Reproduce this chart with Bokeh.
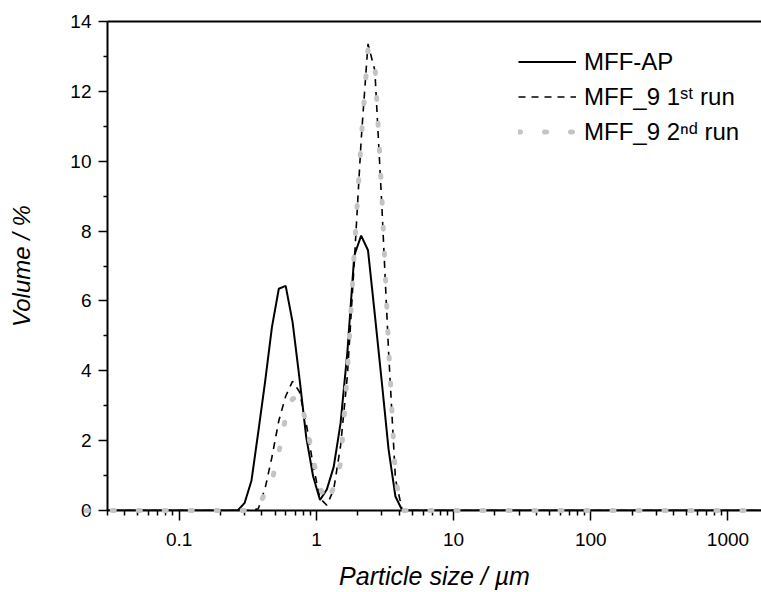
from bokeh.plotting import figure
from bokeh.models import (Range1d, FixedTicker, CustomJSTickFormatter, Legend,
                          LegendItem, LogAxis)
from bokeh.embed import file_html
from bokeh.resources import INLINE

# Particle size classes (µm, geometric bin centres)
sizes = [0.021, 0.024, 0.027, 0.030, 0.034, 0.038, 0.042, 0.048, 0.053, 0.060,
         0.067, 0.075, 0.084, 0.095, 0.106, 0.119, 0.134, 0.150, 0.168, 0.189,
         0.212, 0.238, 0.267, 0.300, 0.336, 0.377, 0.423, 0.474, 0.532, 0.597,
         0.670, 0.752, 0.843, 0.946, 1.062, 1.191, 1.337, 1.500, 1.683, 1.888,
         2.119, 2.377, 2.667, 2.993, 3.358, 3.768, 4.227, 4.743, 5.322, 5.971,
         6.699, 7.517, 8.434, 9.463, 10.618, 11.914, 13.367, 14.998, 16.828, 18.881,
         21.185, 23.770, 26.671, 29.925, 33.576, 37.673, 42.270, 47.427, 53.214, 59.707,
         66.993, 75.167, 84.339, 94.629, 106.176, 119.131, 133.667, 149.977, 168.276, 188.809,
         211.847, 237.696, 266.699, 299.240, 335.752, 376.719, 422.683, 474.258, 532.124, 597.052,
         669.902, 751.640, 843.352, 946.256, 1061.713, 1191.258, 1336.612, 1499.702, 1682.689, 1887.998]

# Volume % — MFF-AP
mff_ap = [0, 0, 0, 0, 0, 0, 0, 0, 0, 0,
          0, 0, 0, 0, 0, 0, 0, 0, 0, 0,
          0, 0, 0, 0.22, 0.85, 2.25, 3.7, 5.25, 6.35, 6.43,
          5.4, 3.8, 2.1, 0.98, 0.3, 0.6, 1.25, 2.5, 4.55, 7.3,
          7.87, 7.45, 5.6, 3.7, 1.75, 0.4, 0, 0, 0, 0,
          0, 0, 0, 0, 0, 0, 0, 0, 0, 0,
          0, 0, 0, 0, 0, 0, 0, 0, 0, 0,
          0, 0, 0, 0, 0, 0, 0, 0, 0, 0,
          0, 0, 0, 0, 0, 0, 0, 0, 0, 0,
          0, 0, 0, 0, 0, 0, 0, 0, 0, 0]

# Volume % — MFF_9 1st run
mff9_run1 = [0, 0, 0, 0, 0, 0, 0, 0, 0, 0,
             0, 0, 0, 0, 0, 0, 0, 0, 0, 0,
             0, 0, 0, 0, 0, 0.05, 0.64, 1.53, 2.57, 3.27,
             3.7, 3.4, 2.5, 1.3, 0.35, 0.15, 0.6, 1.85, 3.87, 7.1,
             10.6, 13.36, 12.6, 8.8, 4.55, 0.9, 0, 0, 0, 0,
             0, 0, 0, 0, 0, 0, 0, 0, 0, 0,
             0, 0, 0, 0, 0, 0, 0, 0, 0, 0,
             0, 0, 0, 0, 0, 0, 0, 0, 0, 0,
             0, 0, 0, 0, 0, 0, 0, 0, 0, 0,
             0, 0, 0, 0, 0, 0, 0, 0, 0, 0]

# Volume % — MFF_9 2nd run
mff9_run2 = [0, 0, 0, 0, 0, 0, 0, 0, 0, 0,
             0, 0, 0, 0, 0, 0, 0, 0, 0, 0,
             0, 0, 0, 0, 0, 0.12, 0.5, 0.86, 1.65, 2.67,
             3.2, 3.25, 2.5, 1.47, 0.65, 0.22, 0.65, 1.35, 3.95, 7.4,
             10.6, 13.2, 12.8, 9.08, 4.7, 0.9, 0, 0, 0, 0,
             0, 0, 0, 0, 0, 0, 0, 0, 0, 0,
             0, 0, 0, 0, 0, 0, 0, 0, 0, 0,
             0, 0, 0, 0, 0, 0, 0, 0, 0, 0,
             0, 0, 0, 0, 0, 0, 0, 0, 0, 0,
             0, 0, 0, 0, 0, 0, 0, 0, 0, 0]

series_labels = ["MFF-AP", "MFF_9 1ˢᵗ run", "MFF_9 2ⁿᵈ run"]

x_major = [0.1, 1, 10, 100, 1000]
x_tick_labels = ["0.1", "1", "10", "100", "1000"]
x_minor = [m * 10.0 ** e for e in range(-2, 4) for m in range(2, 10)]
y_major = [0, 2, 4, 6, 8, 10, 12, 14]
y_minor = [1, 3, 5, 7, 9, 11, 13]

FONT = "Liberation Sans"

p = figure(width=761, height=592, x_axis_type="log",
           x_range=Range1d(0.03, 1756), y_range=Range1d(0, 14),
           output_backend="svg", toolbar_location=None,
           min_border_left=107, min_border_right=0,
           min_border_top=21, min_border_bottom=81)

p.xgrid.visible = False
p.ygrid.visible = False
p.outline_line_color = None
p.background_fill_color = "white"
p.border_fill_color = "white"

r_ap = p.line(sizes, mff_ap, line_color="black", line_width=2)
r_1 = p.line(sizes, mff9_run1, line_color="black", line_width=1.6, line_dash="7 6")
r_2 = p.line(sizes, mff9_run2, line_color="#c4c4c4", line_width=5,
             line_dash="2 24", line_cap="round", level="overlay")

xa = p.xaxis[0]
xa.ticker = FixedTicker(ticks=x_major, minor_ticks=x_minor)
xa.formatter = CustomJSTickFormatter(
    args=dict(vals=x_major, labels=x_tick_labels),
    code="""
    for (let i = 0; i < vals.length; i++) {
        if (Math.abs(vals[i] - tick) <= 1e-9 * Math.max(1, vals[i])) return labels[i];
    }
    return "";
    """)
xa.axis_label = "Particle size / µm"
xa.major_tick_out = 10
xa.minor_tick_out = 5
xa.major_label_standoff = 12
xa.axis_label_standoff = 13

ya = p.yaxis[0]
ya.ticker = FixedTicker(ticks=y_major, minor_ticks=y_minor)
ya.axis_label = "Volume / %"
ya.major_tick_out = 9
ya.minor_tick_out = 4
ya.major_label_standoff = 7
ya.axis_label_standoff = 32

for ax in (xa, ya):
    ax.axis_line_width = 2
    ax.axis_line_color = "black"
    ax.major_tick_line_width = 1.5
    ax.minor_tick_line_width = 1.5
    ax.major_tick_line_color = "black"
    ax.minor_tick_line_color = "black"
    ax.major_tick_in = 0
    ax.minor_tick_in = 0
    ax.major_label_text_font = FONT
    ax.major_label_text_font_size = "19px"
    ax.major_label_text_color = "black"
    ax.axis_label_text_font = FONT
    ax.axis_label_text_font_style = "italic"
    ax.axis_label_text_color = "black"
xa.axis_label_text_font_size = "25px"
ya.axis_label_text_font_size = "24px"

top = LogAxis(ticker=FixedTicker(ticks=[], minor_ticks=[]),
              axis_line_width=2, axis_line_color="black",
              major_tick_line_color=None, minor_tick_line_color=None,
              major_label_text_font_size="0px", major_tick_out=0, minor_tick_out=0)
p.add_layout(top, "above")

legend = Legend(items=[LegendItem(label=series_labels[0], renderers=[r_ap]),
                       LegendItem(label=series_labels[1], renderers=[r_1]),
                       LegendItem(label=series_labels[2], renderers=[r_2])],
                location=(411, 361), orientation="vertical",
                glyph_width=58, glyph_height=35, label_height=35,
                label_standoff=8, spacing=0, padding=0, margin=0,
                border_line_color=None, background_fill_alpha=0,
                label_text_font=FONT, label_text_font_size="24px",
                label_text_color="black")
p.add_layout(legend)

open("out.html", "w").write(file_html(p, INLINE))
